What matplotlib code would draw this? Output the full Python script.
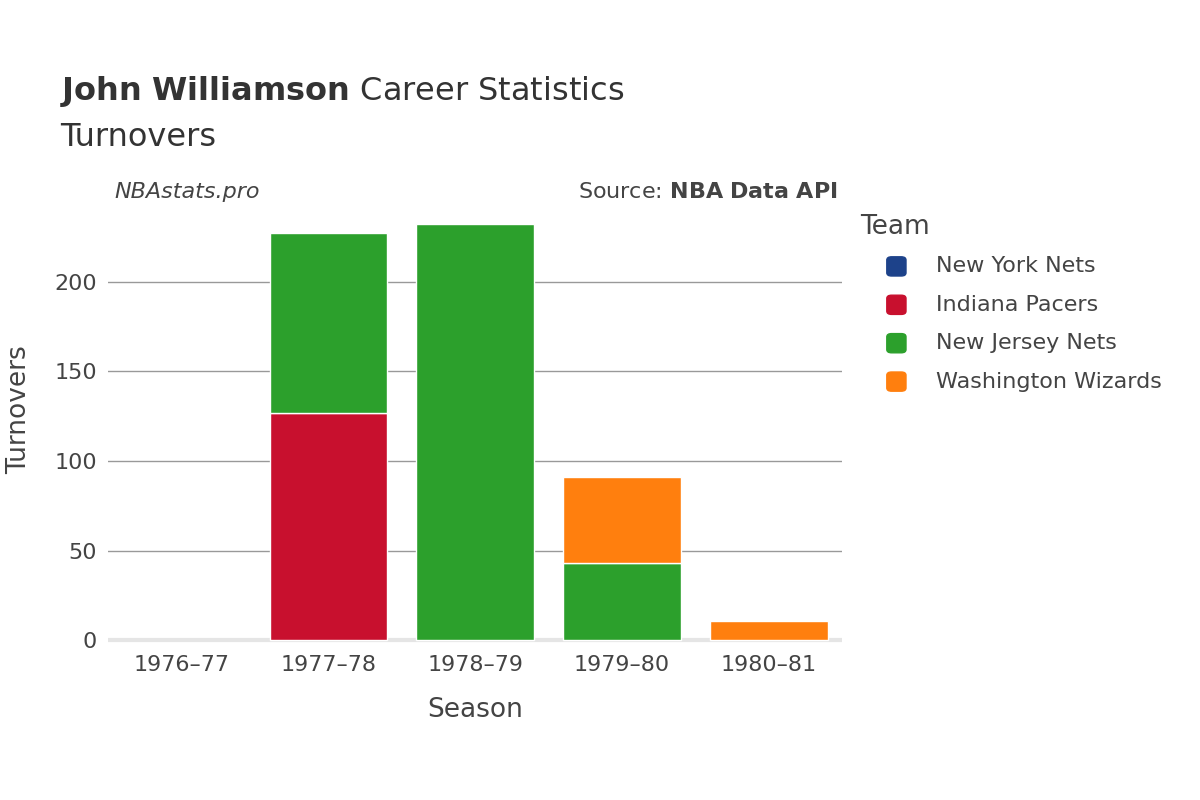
import matplotlib.pyplot as plt
from matplotlib.patches import FancyBboxPatch
import numpy as np

seasons = ["1976\u201377", "1977\u201378", "1978\u201379", "1979\u201380", "1980\u201381"]
teams = ["New York Nets", "Indiana Pacers", "New Jersey Nets", "Washington Wizards"]
colors = ["#1d428a", "#c8102e", "#2ca02c", "#ff7f0e"]
ny_nets = [0, 0, 0, 0, 0]
pacers = [0, 127, 0, 0, 0]
nj_nets = [0, 100, 232, 43, 0]
wizards = [0, 0, 0, 48, 11]
series = [ny_nets, pacers, nj_nets, wizards]

fig = plt.figure(figsize=(12, 8), dpi=100)
ax = fig.add_axes([0.09, 0.195, 0.612, 0.585])
x = np.arange(len(seasons))
bottom = np.zeros(len(seasons))
for vals, c in zip(series, colors):
    vals = np.array(vals, dtype=float)
    mask = vals > 0
    ax.bar(x[mask], vals[mask], 0.8, bottom=bottom[mask], color=c,
           edgecolor="white", linewidth=1, zorder=3)
    bottom += vals

ax.set_xlim(-0.5, 4.5)
ax.set_ylim(-2, 259)
ax.set_yticks([0, 50, 100, 150, 200])
ax.set_xticks(x)
ax.set_xticklabels(seasons)
ax.tick_params(length=0, labelsize=16, colors="#444444", pad=8)
ax.grid(axis="y", color="#999999", linewidth=1, zorder=0)
ax.axhline(0, color="#e5e5e5", linewidth=3, zorder=2)
for s in ax.spines.values():
    s.set_visible(False)
ax.set_xlabel("Season", fontsize=19, color="#444444", labelpad=16)
ax.set_ylabel("Turnovers", fontsize=19, color="#444444", labelpad=16)

fig.text(0.05, 0.875, r"$\bf{John\ Williamson}$ Career Statistics", fontsize=23, color="#333333")
fig.text(0.05, 0.818, "Turnovers", fontsize=23, color="#333333")
fig.text(0.095, 0.752, "NBAstats.pro", fontsize=16, style="italic", color="#444444")
fig.text(0.698, 0.752, r"Source: $\bf{NBA\ Data\ API}$", fontsize=16, color="#444444", ha="right")

fig.text(0.717, 0.707, "Team", fontsize=19, color="#444444")
for i, (t, c) in enumerate(zip(teams, colors)):
    yy = 0.667 - i * 0.048
    fig.patches.append(FancyBboxPatch((0.739, yy - 0.012), 0.016, 0.024,
                                      boxstyle="round,pad=0,rounding_size=0.004",
                                      transform=fig.transFigure, color=c))
    fig.text(0.78, yy, t, fontsize=16, color="#444444", va="center")

fig.savefig("out.png")
